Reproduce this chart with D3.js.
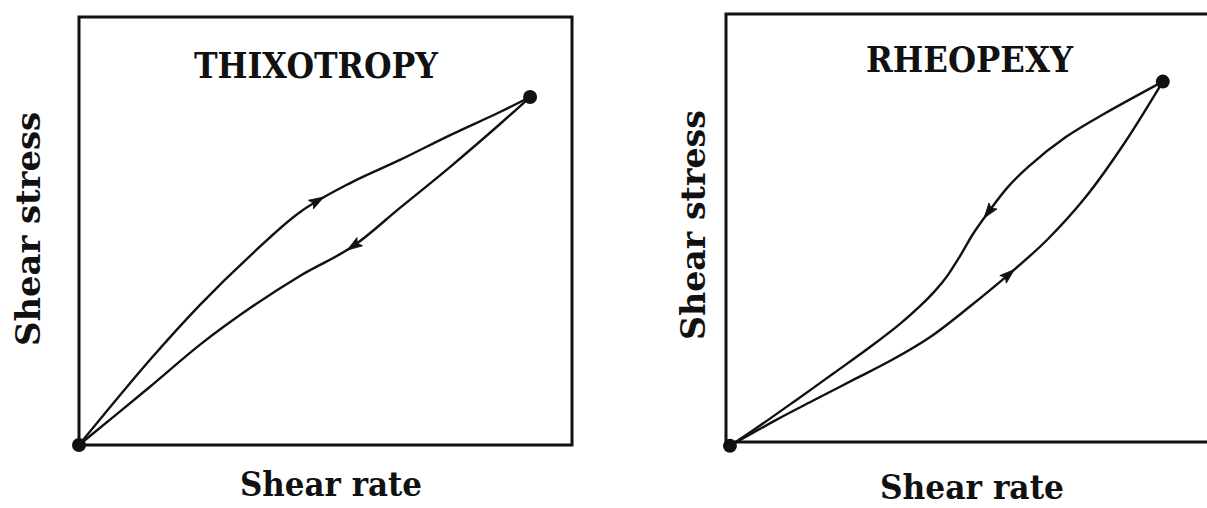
<!DOCTYPE html>
<html><head><meta charset="utf-8">
<script src="https://cdn.jsdelivr.net/npm/d3@7"></script>
<style>body{margin:0;background:#fff}svg{display:block}</style>
</head><body>
<svg id="c" width="1207" height="508"></svg>
<script>
// ---- data (axis units 0..100 of each panel) ----
const titles = ["THIXOTROPY", "RHEOPEXY"];
const xLabel = "Shear rate";
const yLabel = "Shear stress";

// Thixotropy: increasing (upper) curve
const thixoUpX = [0, 14.4, 24.5, 34.7, 44.8, 55.0, 65.1, 75.3, 85.4, 91.5];
const thixoUpY = [0, 19.9, 32.7, 44.2, 54.4, 61.2, 66.6, 72.4, 77.8, 81.3];
// Thixotropy: decreasing (lower) curve, from the top point back to origin
const thixoDownX = [91.5, 85.4, 75.3, 65.1, 55.4, 44.8, 34.7, 24.5, 14.4, 0];
const thixoDownY = [81.3, 75.0, 65.0, 55.4, 46.3, 39.5, 32.0, 23.4, 13.6, 0];
const thixoArrows = [{x: 48.5, y: 57.5}, {x: 55.4, y: 46.3}];

// Rheopexy: increasing (lower) curve
const rheoUpX = [0.8, 10.1, 17.9, 25.8, 33.7, 41.5, 49.4, 57.6, 65.1, 73.0, 80.8, 88.6];
const rheoUpY = [-0.9, 5.1, 9.8, 14.5, 19.2, 24.6, 31.6, 39.4, 47.2, 57.3, 69.8, 84.2];
// Rheopexy: decreasing (upper) curve, from the top point back to origin
const rheoDownX = [88.6, 76.9, 69.0, 61.3, 57.2, 53.1, 50.1, 47.5, 45.0, 42.4, 39.4, 35.3, 29.7, 21.9, 14.0, 6.1, 0.8];
const rheoDownY = [84.2, 76.8, 71.3, 64.3, 59.6, 53.5, 48.6, 43.5, 39.0, 35.3, 31.8, 27.6, 22.6, 16.1, 9.6, 3.2, -0.9];
const rheoArrows = [{x: 57.6, y: 39.4}, {x: 53.1, y: 53.5}];

// ---- layout ----
const panels = [
  {title: titles[0], left: 79, bottom: 445, w: 493, h: 428,
   up: [thixoUpX, thixoUpY], down: [thixoDownX, thixoDownY], arrows: thixoArrows,
   titleX: 316, titleY: 78, titleLen: 244,
   xlX: 331, xlY: 496, xlLen: 182, ylX: 40, ylY: 229, ylLen: 234},
  {title: titles[1], left: 726, bottom: 442, w: 493, h: 428,
   up: [rheoUpX, rheoUpY], down: [rheoDownX, rheoDownY], arrows: rheoArrows,
   titleX: 969.5, titleY: 71.5, titleLen: 207,
   xlX: 972, xlY: 499, xlLen: 184, ylX: 705, ylY: 225, ylLen: 230}
];

const svg = d3.select("#c");
const ink = "#111";
const font = "'DejaVu Serif', 'Liberation Serif', serif";

panels.forEach(p => {
  const x = d3.scaleLinear().domain([0, 100]).range([p.left, p.left + p.w]);
  const y = d3.scaleLinear().domain([0, 100]).range([p.bottom, p.bottom - p.h]);
  const g = svg.append("g");

  // frame
  g.append("rect")
    .attr("x", x(0)).attr("y", y(100))
    .attr("width", x(100) - x(0)).attr("height", y(0) - y(100))
    .attr("fill", "none").attr("stroke", ink).attr("stroke-width", 3);

  const line = d3.line().x(d => x(d[0])).y(d => y(d[1])).curve(d3.curveCatmullRom.alpha(0.5));

  const curves = [p.up, p.down].map(c => {
    const pts = c[0].map((v, i) => [v, c[1][i]]);
    return g.append("path").attr("d", line(pts))
      .attr("fill", "none").attr("stroke", ink).attr("stroke-width", 2.4)
      .attr("stroke-linejoin", "round").node();
  });

  // arrowheads
  p.arrows.forEach((a, i) => {
    const node = curves[i];
    const total = node.getTotalLength();
    const px = x(a.x), py = y(a.y);
    let best = 0, bestD = Infinity;
    for (let l = 0; l <= total; l += 0.5) {
      const q = node.getPointAtLength(l);
      const d = (q.x - px) ** 2 + (q.y - py) ** 2;
      if (d < bestD) { bestD = d; best = l; }
    }
    const q = node.getPointAtLength(best);
    const a0 = node.getPointAtLength(Math.max(0, best - 4));
    const a1 = node.getPointAtLength(Math.min(total, best + 4));
    const ang = Math.atan2(a1.y - a0.y, a1.x - a0.x) * 180 / Math.PI;
    g.append("path").attr("d", "M6,0 L-9,-5 L-6,0 L-9,5 Z")
      .attr("fill", ink).attr("stroke", ink).attr("stroke-width", 0.8)
      .attr("transform", `translate(${q.x},${q.y}) rotate(${ang})`);
  });

  // end points
  const ends = [[p.up[0][0], p.up[1][0]], [p.up[0][p.up[0].length - 1], p.up[1][p.up[1].length - 1]]];
  g.selectAll("circle.end").data(ends).join("circle")
    .attr("cx", d => x(d[0])).attr("cy", d => y(d[1])).attr("r", 7).attr("fill", ink);

  // texts
  g.append("text").text(p.title)
    .attr("x", p.titleX).attr("y", p.titleY).attr("text-anchor", "middle")
    .attr("font-family", font).attr("font-weight", "bold").attr("font-size", 35)
    .attr("textLength", p.titleLen).attr("lengthAdjust", "spacingAndGlyphs").attr("fill", ink);
  g.append("text").text(xLabel)
    .attr("x", p.xlX).attr("y", p.xlY).attr("text-anchor", "middle")
    .attr("font-family", font).attr("font-weight", "bold").attr("font-size", 34)
    .attr("textLength", p.xlLen).attr("lengthAdjust", "spacingAndGlyphs").attr("fill", ink);
  g.append("text").text(yLabel)
    .attr("transform", `translate(${p.ylX},${p.ylY}) rotate(-90)`)
    .attr("text-anchor", "middle")
    .attr("font-family", font).attr("font-weight", "bold").attr("font-size", 34)
    .attr("textLength", p.ylLen).attr("lengthAdjust", "spacingAndGlyphs").attr("fill", ink);
});
</script>
</body></html>
